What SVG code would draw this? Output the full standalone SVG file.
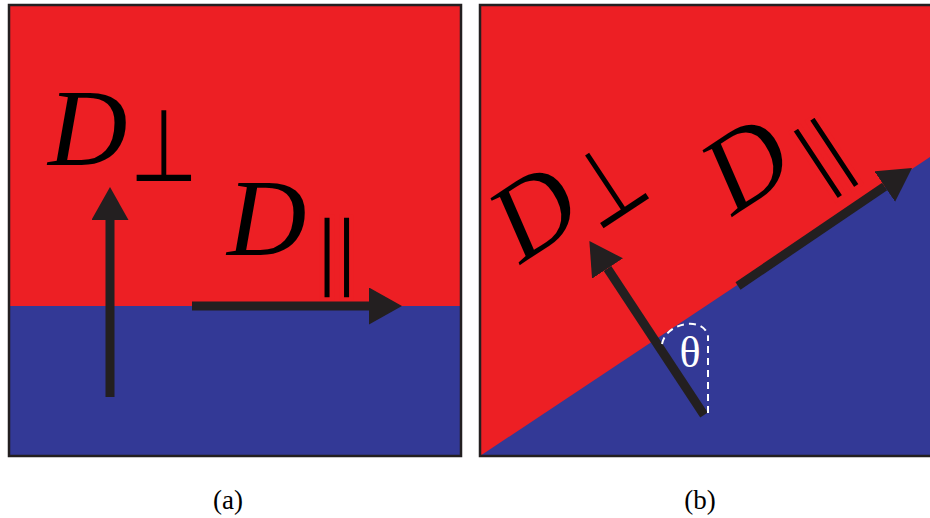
<svg xmlns="http://www.w3.org/2000/svg" width="930" height="518" viewBox="0 0 930 518">
<style>
.red{fill:#ed1f24}
.blue{fill:#333996}
.frame{fill:none;stroke:#231f20;stroke-width:2.5}
.shaft{stroke:#231f20;stroke-width:9;fill:none}
.D{font-family:"Liberation Serif",serif;font-style:italic;font-size:110px;fill:#000}
.perp{font-family:"Noto Sans",sans-serif;font-size:78px;fill:#000;text-anchor:middle}
.par{font-family:"DejaVu Sans",sans-serif;font-size:84px;fill:#000;stroke:#ed1f24;stroke-width:3.2;text-anchor:middle}
.cap{font-family:"Liberation Serif",serif;font-size:27px;fill:#000;text-anchor:middle}
.theta{font-family:"Liberation Serif",serif;font-size:44px;fill:#fff;text-anchor:middle}
.dash{fill:none;stroke:#fff;stroke-width:2;stroke-dasharray:7 5}
</style>
<defs>
<marker id="head" markerUnits="userSpaceOnUse" markerWidth="34" markerHeight="38" refX="0" refY="18.5" orient="auto">
<path d="M0,0 L33,18.5 L0,37 z" fill="#231f20"/>
</marker>
</defs>
<g id="panel-a">
<rect class="red" x="8" y="4" width="454" height="303"/>
<rect class="blue" x="8" y="306" width="454" height="151"/>
<rect class="frame" x="9" y="5" width="452" height="451"/>
</g>
<g id="panel-b">
<rect class="red" x="479" y="4" width="460" height="453"/>
<polygon class="blue" points="480,456 930,157 930,457"/>
<rect class="frame" x="480" y="5" width="460" height="451"/>
</g>
<g id="connectors">
<line class="shaft" x1="110" y1="397" x2="110" y2="220" marker-end="url(#head)"/>
<line class="shaft" x1="192" y1="306" x2="369" y2="306" marker-end="url(#head)"/>
<line class="shaft" x1="704" y1="415" x2="607.5" y2="268.5" marker-end="url(#head)"/>
<line class="shaft" x1="738" y1="286" x2="884.7" y2="186.5" marker-end="url(#head)"/>
</g>
<g id="label-a-perp" transform="translate(47,165)">
<text class="D" x="1" y="0">D</text>
<text class="perp" transform="translate(117,16) scale(1,1.3)">⊥</text>
</g>
<g id="label-a-par" transform="translate(226,255)">
<text class="D" x="1" y="0">D</text>
<text class="par" transform="translate(111,26) scale(1.5,1)">∥</text>
</g>
<g id="label-b-perp" transform="translate(520,265) rotate(-33.5)">
<text class="D" x="1" y="0">D</text>
<text class="perp" transform="translate(117,16) scale(1,1.3)">⊥</text>
</g>
<g id="label-b-par" transform="translate(732,217) rotate(-33.5)">
<text class="D" x="1" y="0">D</text>
<text class="par" transform="translate(111,26) scale(1.5,1)">∥</text>
</g>
<g id="angle">
<line class="dash" x1="708" y1="413" x2="708" y2="336"/>
<path class="dash" d="M662,344 C666,322 704,316 708,336"/>
<text class="theta" x="690" y="367">θ</text>
</g>
<text class="cap" x="228" y="509">(a)</text>
<text class="cap" x="700" y="509">(b)</text>
</svg>
